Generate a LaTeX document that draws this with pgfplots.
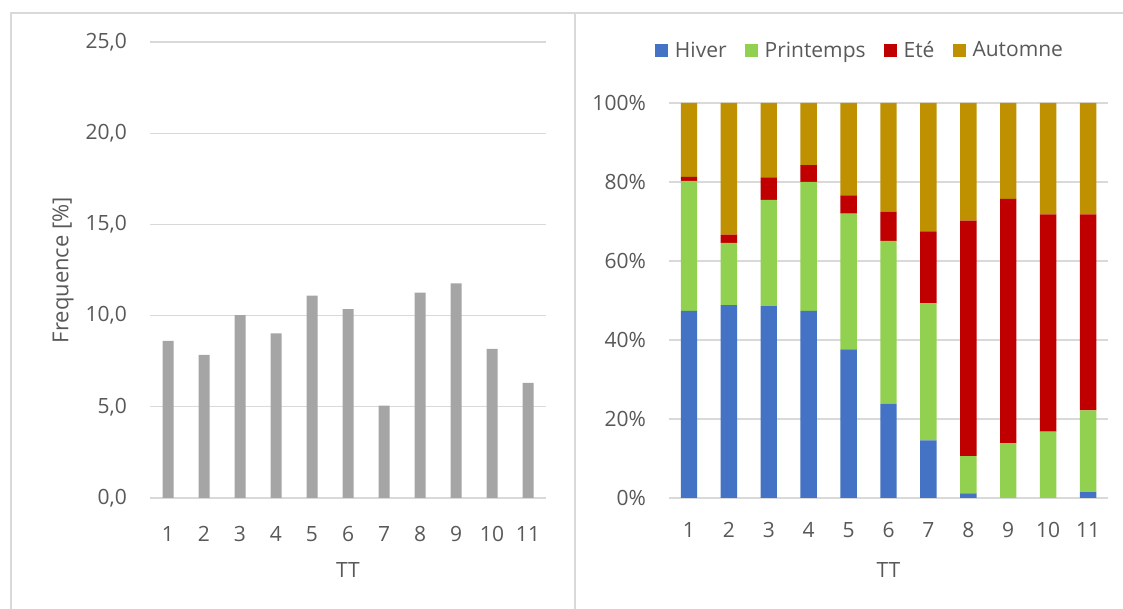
\documentclass[border=0pt]{standalone}
\usepackage{pgfplots}
\pgfplotsset{compat=1.18}
\usepackage{fontspec}
\setmainfont{Open Sans}
\definecolor{txt}{HTML}{595959}
\definecolor{grd}{HTML}{D9D9D9}
\definecolor{barg}{HTML}{A5A5A5}
\definecolor{hiver}{HTML}{4472C4}
\definecolor{printemps}{HTML}{92D050}
\definecolor{ete}{HTML}{C00000}
\definecolor{automne}{HTML}{BF9000}
\newcommand{\chfont}{\fontsize{21}{25}\selectfont}
\pgfplotsset{
  common/.style={
    scale only axis,
    anchor=south west,
    xmin=0.5, xmax=11.5,
    ymin=0,
    xtick={1,...,11},
    axis line style={draw=none},
    major tick style={draw=none},
    ymajorgrids,
    grid style={grd, line width=1.3pt},
    tick label style={text=txt, font=\chfont},
    label style={text=txt, font=\chfont},
    /pgf/number format/assume math mode=true,
    xticklabel style={anchor=center, yshift=-32pt},
    yticklabel style={anchor=east, inner sep=0pt, xshift=-23pt},
  }
}
\begin{document}
\begin{tikzpicture}[x=1pt,y=1pt]
\useasboundingbox (0,0) rectangle (1123,609);
\fill[white] (0,0) rectangle (1123,609);
\draw[grd, line width=1.5pt] (11,0) -- (11,596) -- (1123,596);
\draw[grd, line width=1.5pt] (575,596) -- (575,0);

\begin{axis}[common,
  at={(150pt,111pt)},
  width=396pt, height=456pt,
  ymax=25, ytick={0,5,...,25},
  yticklabel style={/pgf/number format/.cd, fixed, fixed zerofill, precision=1, use comma},
  xlabel={TT},
  xlabel style={at={(axis description cs:0.5,-0.158)}, anchor=center},
  ylabel={Frequence [\%]},
  ylabel style={at={(axis description cs:-0.2197,0.5)}, anchor=center, font=\fontsize{22}{26}\selectfont},
  ybar, bar width=11pt,
]
\addplot[fill=barg, draw=none] coordinates {
  (1,8.61) (2,7.84) (3,10.03) (4,9.03) (5,11.09) (6,10.35)
  (7,5.06) (8,11.26) (9,11.77) (10,8.18) (11,6.31)};
\end{axis}

\begin{axis}[common,
  at={(669pt,111pt)},
  width=439pt, height=395pt,
  ymax=100, ytick={0,20,...,100},
  yticklabel={\pgfmathprintnumber{\tick}\%},
  xlabel={TT},
  xlabel style={at={(axis description cs:0.5,-0.1823)}, anchor=center},
  ybar stacked, bar width=16.4pt,
  legend style={at={(axis description cs:0.435,1.134)}, anchor=center,
    draw=none, fill=none, legend columns=4, text=txt, font=\chfont,
    /tikz/every odd column/.append style={column sep=5pt},
    /tikz/every even column/.append style={column sep=16pt}},
  legend image code/.code={\fill[#1] (0pt,-6.5pt) rectangle (13pt,6.5pt);},
]
\addplot[fill=hiver, draw=none] coordinates {
  (1,47.4) (2,48.8) (3,48.6) (4,47.4) (5,37.6) (6,23.9)
  (7,14.6) (8,1.2) (9,0) (10,0) (11,1.5)};
\addplot[fill=printemps, draw=none] coordinates {
  (1,32.9) (2,15.8) (3,26.9) (4,32.6) (5,34.4) (6,41.2)
  (7,34.7) (8,9.4) (9,13.8) (10,16.8) (11,20.7)};
\addplot[fill=ete, draw=none] coordinates {
  (1,1.0) (2,2.1) (3,5.7) (4,4.3) (5,4.6) (6,7.4)
  (7,18.2) (8,59.6) (9,61.9) (10,55.0) (11,49.6)};
\addplot[fill=automne, draw=none] coordinates {
  (1,18.7) (2,33.3) (3,18.8) (4,15.7) (5,23.4) (6,27.5)
  (7,32.5) (8,29.8) (9,24.3) (10,28.2) (11,28.2)};
\legend{Hiver,Printemps,Eté,Automne}
\end{axis}
\end{tikzpicture}
\end{document}
